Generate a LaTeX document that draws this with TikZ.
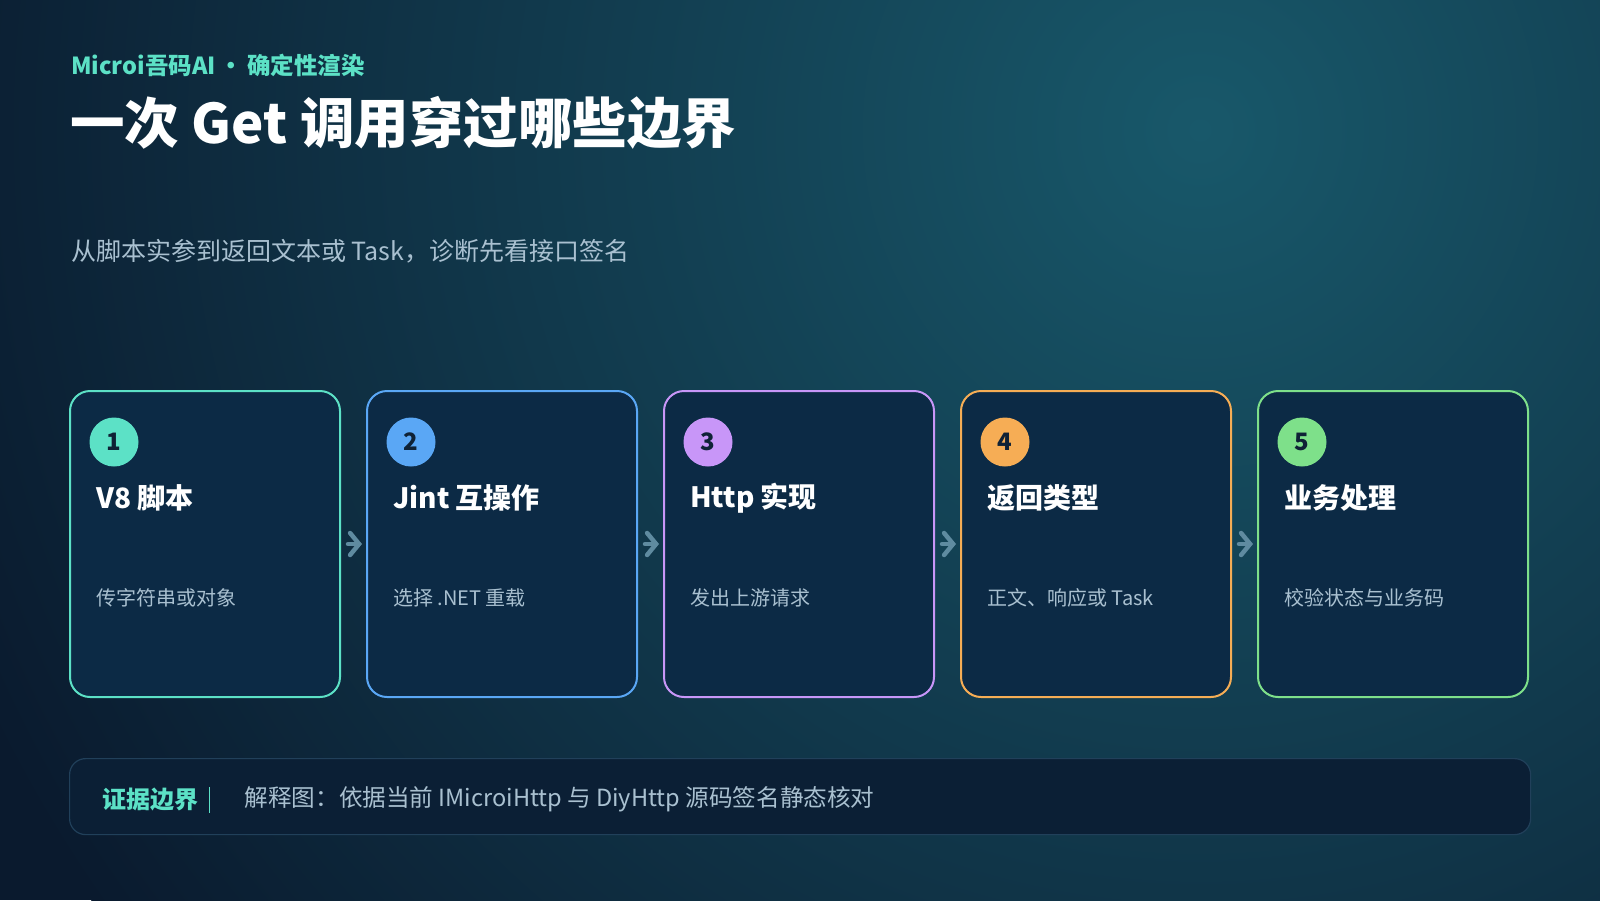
\documentclass[tikz,border=0pt]{standalone}
\usepackage{fontspec}
\setmainfont{Noto Sans CJK SC}
\usetikzlibrary{arrows.meta,positioning,calc}

\definecolor{bgdark}{HTML}{0A1A2E}
\definecolor{bgteal}{HTML}{18586A}
\definecolor{cardfill}{HTML}{0C2A45}
\definecolor{accteal}{HTML}{5CE1C6}
\definecolor{accblue}{HTML}{5AA7F5}
\definecolor{accpurple}{HTML}{C896F8}
\definecolor{accorange}{HTML}{F6AD55}
\definecolor{accgreen}{HTML}{7EE08A}
\definecolor{numtext}{HTML}{0F2236}
\definecolor{softtext}{HTML}{A9C0D0}
\definecolor{arrowgray}{HTML}{5F8BA0}
\definecolor{evfill}{HTML}{0B1F35}
\definecolor{evline}{HTML}{21405A}

\tikzset{
  card/.style={draw=#1, line width=2pt, fill=cardfill, rounded corners=20pt,
    minimum width=270pt, minimum height=306pt, anchor=north west, inner sep=0pt},
  badge/.style={circle, fill=#1, minimum size=49pt, inner sep=0pt, text=numtext,
    font=\fontsize{24}{28}\selectfont\bfseries},
  cardtitle/.style={anchor=west, inner sep=0pt, text=white,
    font=\fontsize{28}{34}\selectfont\bfseries},
  cardnote/.style={anchor=west, inner sep=0pt, text=softtext,
    font=\fontsize{20}{24}\selectfont},
  flowarrow/.style={draw=arrowgray, line width=4.5pt, line cap=round,
    -{Straight Barb[length=9pt,width=22pt,line cap=round]}}
}

\begin{document}
\begin{tikzpicture}[x=1pt,y=-1pt]
  % Canvas and background glow
  \useasboundingbox (0,0) rectangle (1600,900);
  \fill[bgdark] (0,0) rectangle (1600,900);
  \begin{scope}
    \clip (0,0) rectangle (1600,900);
    \shade[inner color=bgteal, outer color=bgdark] (1200,130) circle (1350);
  \end{scope}

  % Heading block
  \node[anchor=west, inner sep=0pt, text=accteal, font=\fontsize{23.5}{28}\selectfont\bfseries]
    (kicker) at (71,65) {Microi吾码AI\,•\,确定性渲染};
  \node[anchor=west, inner sep=0pt, text=white, font=\fontsize{54.5}{62}\selectfont\bfseries]
    (headline) at (70,123) {一次 Get 调用穿过哪些边界};
  \node[anchor=west, inner sep=0pt, text=softtext, font=\fontsize{25}{30}\selectfont]
    (lede) at (71,251) {从脚本实参到返回文本或 Task，诊断先看接口签名};

  % Five stage cards
  \foreach \i/\col/\name/\note in {
      1/accteal/{V8 脚本}/{传字符串或对象},
      2/accblue/{Jint 互操作}/{选择 .NET 重载},
      3/accpurple/{Http 实现}/{发出上游请求},
      4/accorange/{返回类型}/{正文、响应或 Task},
      5/accgreen/{业务处理}/{校验状态与业务码}} {
    \node[card=\col] (c\i) at ({69+(\i-1)*297},390) {};
    \node[badge=\col] (n\i) at ($(c\i.north west)+(45,52)$) {\i};
    \node[cardtitle] (t\i) at ($(c\i.north west)+(27,108)$) {\name};
    \node[cardnote] (s\i) at ($(c\i.north west)+(27,208)$) {\note};
  }

  % Arrows between cards
  \foreach \i [evaluate=\i as \j using int(\i+1)] in {1,...,4} {
    \draw[flowarrow] ([xshift=7pt]c\i.east) -- ([xshift=-4pt]c\j.west);
  }

  % Evidence strip
  \node[draw=evline, line width=1.2pt, fill=evfill, rounded corners=16pt, anchor=north west,
    minimum width=1461pt, minimum height=76pt, inner sep=0pt] (ev) at (69,758) {};
  \node[anchor=west, inner sep=0pt, text=accteal, font=\fontsize{24}{28}\selectfont\bfseries]
    (evlabel) at ($(ev.west)+(33,3)$) {证据边界};
  \draw[accteal, line width=1.5pt] ([xshift=11pt,yshift=-13pt]evlabel.east) coordinate (bartop)
    -- ([xshift=11pt,yshift=13pt]evlabel.east) coordinate (barbot);
  \node[anchor=west, inner sep=0pt, text=softtext, font=\fontsize{23.6}{28}\selectfont]
    (evtext) at ($(evlabel.east)+(46,0)$) {解释图：依据当前 IMicroiHttp 与 DiyHttp 源码签名静态核对};
\end{tikzpicture}
\end{document}
